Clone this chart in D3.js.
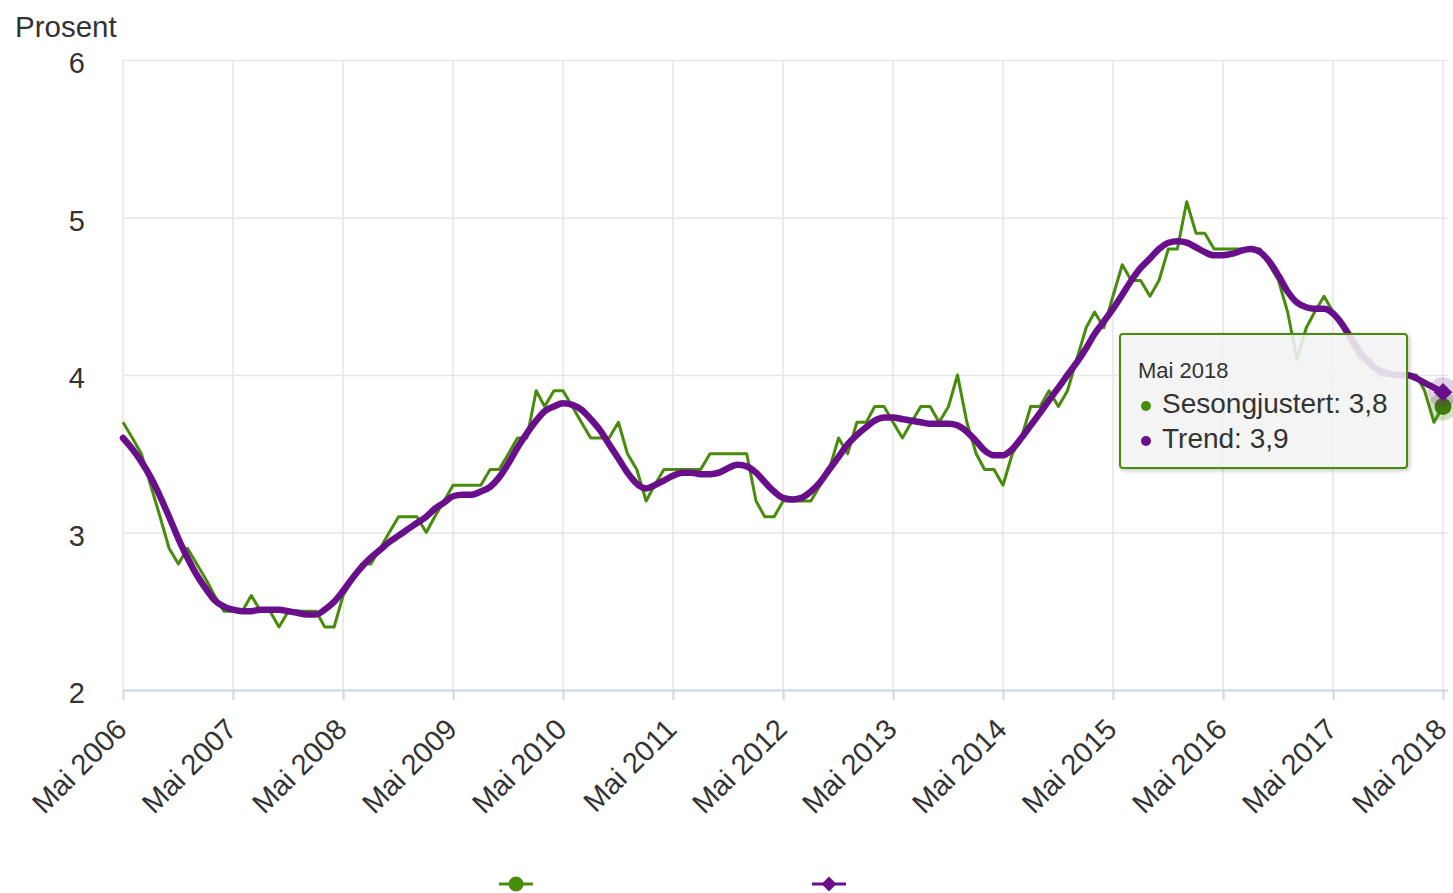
<!DOCTYPE html>
<html>
<head>
<meta charset="utf-8">
<script src="https://cdn.jsdelivr.net/npm/d3@7"></script>
<style>
  body { margin: 0; background: #fff; }
  svg { display: block; font-family: "Liberation Sans", Arial, sans-serif; }
</style>
</head>
<body>
<svg width="1453" height="893"></svg>
<script>
// data: mai 2006 - mai 2018, one value per month
var firstMonth = new Date(2006, 4, 1);
var lastMonth = new Date(2018, 4, 1);

var sesongjustert = [
  3.7, 3.6, 3.5, 3.3, 3.1, 2.9, 2.8, 2.9, 2.8, 2.7, 2.6, 2.5,
  2.5, 2.5, 2.6, 2.5, 2.5, 2.4, 2.5, 2.5, 2.5, 2.5, 2.4, 2.4,
  2.6, 2.7, 2.8, 2.8, 2.9, 3.0, 3.1, 3.1, 3.1, 3.0, 3.1, 3.2,
  3.3, 3.3, 3.3, 3.3, 3.4, 3.4, 3.5, 3.6, 3.6, 3.9, 3.8, 3.9,
  3.9, 3.8, 3.7, 3.6, 3.6, 3.6, 3.7, 3.5, 3.4, 3.2, 3.3, 3.4,
  3.4, 3.4, 3.4, 3.4, 3.5, 3.5, 3.5, 3.5, 3.5, 3.2, 3.1, 3.1,
  3.2, 3.2, 3.2, 3.2, 3.3, 3.4, 3.6, 3.5, 3.7, 3.7, 3.8, 3.8,
  3.7, 3.6, 3.7, 3.8, 3.8, 3.7, 3.8, 4.0, 3.7, 3.5, 3.4, 3.4,
  3.3, 3.5, 3.6, 3.8, 3.8, 3.9, 3.8, 3.9, 4.1, 4.3, 4.4, 4.3,
  4.5, 4.7, 4.6, 4.6, 4.5, 4.6, 4.8, 4.8, 5.1, 4.9, 4.9, 4.8,
  4.8, 4.8, 4.8, 4.8, 4.8, 4.7, 4.6, 4.4, 4.1, 4.3, 4.4, 4.5,
  4.4, 4.3, 4.2, 4.1, 4.1, 4.0, 4.0, 4.0, 4.0, 4.0, 3.9, 3.7,
  3.8
];

var trend = [
  3.60, 3.53, 3.45, 3.35, 3.23, 3.10, 2.96, 2.84, 2.73, 2.64, 2.57, 2.53,
  2.51, 2.50, 2.50, 2.51, 2.51, 2.51, 2.50, 2.49, 2.48, 2.48, 2.51, 2.56,
  2.63, 2.71, 2.78, 2.84, 2.89, 2.94, 2.98, 3.02, 3.06, 3.10, 3.15, 3.19,
  3.23, 3.24, 3.24, 3.26, 3.29, 3.35, 3.44, 3.54, 3.63, 3.71, 3.77, 3.80,
  3.82, 3.81, 3.78, 3.72, 3.65, 3.56, 3.47, 3.38, 3.31, 3.28, 3.30, 3.33,
  3.36, 3.38, 3.38, 3.37, 3.37, 3.38, 3.41, 3.43, 3.42, 3.38, 3.32, 3.26,
  3.22, 3.21, 3.22, 3.26, 3.32, 3.40, 3.48, 3.56, 3.62, 3.67, 3.71, 3.73,
  3.73, 3.72, 3.71, 3.70, 3.69, 3.69, 3.69, 3.68, 3.64, 3.58, 3.52, 3.49,
  3.49, 3.53, 3.60, 3.68, 3.76, 3.84, 3.92, 4.00, 4.08, 4.17, 4.26, 4.34,
  4.42, 4.51, 4.60, 4.68, 4.74, 4.80, 4.84, 4.85, 4.84, 4.81, 4.78, 4.76,
  4.76, 4.77, 4.79, 4.80, 4.78, 4.72, 4.63, 4.53, 4.46, 4.43, 4.42, 4.42,
  4.39, 4.32, 4.23, 4.14, 4.07, 4.03, 4.01, 4.00, 4.00, 3.98, 3.95, 3.92,
  3.89
];

var yTicks = [2, 3, 4, 5, 6];
var tickYears = [2006, 2007, 2008, 2009, 2010, 2011, 2012, 2013, 2014, 2015, 2016, 2017, 2018];
var tickMonthName = "Mai";
var yTitle = "Prosent";
var seriesNames = ["Sesongjustert", "Trend"];
var tooltipHeader = "Mai 2018";
var tooltipValues = ["3,8", "3,9"];

document.addEventListener("DOMContentLoaded", function () {

  var green = "#478c0b";
  var purple = "#6a0f8b";
  var plotLeft = 123, plotRight = 1448, plotTop = 60, plotBottom = 690;

  var svg = d3.select("svg");

  var months = sesongjustert.map(function (d, i) {
    return new Date(firstMonth.getFullYear(), firstMonth.getMonth() + i, 1);
  });

  var xScale = d3.scaleTime().domain([firstMonth, lastMonth]).range([plotLeft, 1443]);
  var yScale = d3.scaleLinear().domain([2, 6]).range([plotBottom, plotTop]);

  var tickDates = tickYears.map(function (y) { return new Date(y, 4, 1); });

  // horizontal grid
  svg.append("g").selectAll("line")
    .data(yTicks).enter()
    .append("line")
    .attr("x1", plotLeft).attr("x2", plotRight)
    .attr("y1", function (d) { return yScale(d) + 0.5; })
    .attr("y2", function (d) { return yScale(d) + 0.5; })
    .style("stroke", "#e6e6e6")
    .style("stroke-width", "1.5px");

  // vertical grid
  svg.append("g").selectAll("line")
    .data(tickDates).enter()
    .append("line")
    .attr("x1", function (d) { return xScale(d); })
    .attr("x2", function (d) { return xScale(d); })
    .attr("y1", plotTop).attr("y2", plotBottom)
    .style("stroke", "#e6e6e6")
    .style("stroke-width", "1.5px");

  // y labels
  svg.append("g").selectAll("text")
    .data(yTicks).enter()
    .append("text")
    .attr("x", 85)
    .attr("y", function (d) { return yScale(d) + 13; })
    .attr("text-anchor", "end")
    .style("font-size", "29px")
    .style("fill", "#333")
    .text(function (d) { return d; });

  svg.append("text")
    .attr("x", 15).attr("y", 37)
    .style("font-size", "29.5px")
    .style("fill", "#333")
    .text(yTitle);

  // x axis
  var xAxis = d3.axisBottom(xScale)
    .tickValues(tickDates)
    .tickSize(10)
    .tickSizeOuter(0)
    .tickFormat(function (d) { return tickMonthName + " " + d.getFullYear(); });

  var xAxisG = svg.append("g")
    .attr("id", "xAxisG")
    .attr("transform", "translate(0," + plotBottom + ")")
    .call(xAxis);

  xAxisG.select("path.domain").remove();
  xAxisG.selectAll(".tick line").style("stroke", "#ccd6eb").style("stroke-width", "2px");
  xAxisG.selectAll(".tick text")
    .attr("x", 0).attr("y", 0).attr("dy", null)
    .attr("transform", "translate(5,41) rotate(-45)")
    .style("text-anchor", "end")
    .style("font-family", "Liberation Sans, Arial, sans-serif")
    .style("font-size", "29px")
    .style("fill", "#333");

  svg.append("line")
    .attr("x1", plotLeft).attr("x2", plotRight)
    .attr("y1", plotBottom + 0.5).attr("y2", plotBottom + 0.5)
    .style("stroke", "#ccd6eb")
    .style("stroke-width", "2px");

  // series
  var line = d3.line()
    .x(function (d, i) { return xScale(months[i]); })
    .y(function (d) { return yScale(d); });

  svg.append("path")
    .datum(sesongjustert)
    .attr("d", line)
    .style("fill", "none")
    .style("stroke", green)
    .style("stroke-width", "3px")
    .style("stroke-linejoin", "round");

  var lastI = months.length - 1;
  var ex = xScale(months[lastI]);

  // hover marker green
  svg.append("circle")
    .attr("cx", ex).attr("cy", yScale(sesongjustert[lastI]))
    .attr("r", 14)
    .style("fill", green).style("opacity", 0.25);
  svg.append("circle")
    .attr("cx", ex).attr("cy", yScale(sesongjustert[lastI]))
    .attr("r", 8.5)
    .style("fill", "#3f7d0a");

  svg.append("path")
    .datum(trend)
    .attr("d", line.curve(d3.curveMonotoneX))
    .style("fill", "none")
    .style("stroke", purple)
    .style("stroke-width", "6.5px")
    .style("stroke-linejoin", "round")
    .style("stroke-linecap", "round");

  // hover marker purple
  svg.append("circle")
    .attr("cx", ex).attr("cy", yScale(trend[lastI]))
    .attr("r", 15)
    .style("fill", purple).style("opacity", 0.2);
  svg.append("path")
    .attr("d", d3.symbol(d3.symbolSquare).size(170)())
    .attr("transform", "translate(" + ex + "," + yScale(trend[lastI]) + ") rotate(45)")
    .style("fill", purple);

  // tooltip
  var defs = svg.append("defs");
  var f = defs.append("filter").attr("id", "shadow").attr("x", "-10%").attr("y", "-10%")
    .attr("width", "130%").attr("height", "130%");
  f.append("feDropShadow").attr("dx", 1.5).attr("dy", 1.5).attr("stdDeviation", 2)
    .attr("flood-color", "#000").attr("flood-opacity", 0.25);

  var tip = svg.append("g").attr("transform", "translate(1120,334)");
  tip.append("rect")
    .attr("width", 287).attr("height", 134)
    .attr("rx", 3).attr("ry", 3)
    .attr("filter", "url(#shadow)")
    .style("fill", "rgba(247,247,247,0.85)")
    .style("stroke", green)
    .style("stroke-width", "2px");

  tip.append("text")
    .attr("x", 18).attr("y", 44)
    .style("font-size", "22px")
    .style("fill", "#333")
    .text(tooltipHeader);

  var tipColors = [green, purple];
  for (var k = 0; k < seriesNames.length; k++) {
    tip.append("circle")
      .attr("cx", 26).attr("cy", 72 + k * 35)
      .attr("r", 5)
      .style("fill", tipColors[k]);
    tip.append("text")
      .attr("x", 42).attr("y", 79 + k * 35)
      .style("font-size", "28px")
      .style("fill", "#333")
      .text(seriesNames[k] + ": " + tooltipValues[k]);
  }

  // legend symbols (labels fall outside the picture)
  var legendX = [516, 829];
  var legendY = 884;
  legendX.forEach(function (lx, k) {
    svg.append("line")
      .attr("x1", lx - 17).attr("x2", lx + 17)
      .attr("y1", legendY).attr("y2", legendY)
      .style("stroke", tipColors[k])
      .style("stroke-width", "3px");
  });
  svg.append("circle")
    .attr("cx", legendX[0]).attr("cy", legendY).attr("r", 7.5)
    .style("fill", green);
  svg.append("path")
    .attr("d", d3.symbol(d3.symbolSquare).size(110)())
    .attr("transform", "translate(" + legendX[1] + "," + legendY + ") rotate(45)")
    .style("fill", purple);

});
</script>
</body>
</html>
